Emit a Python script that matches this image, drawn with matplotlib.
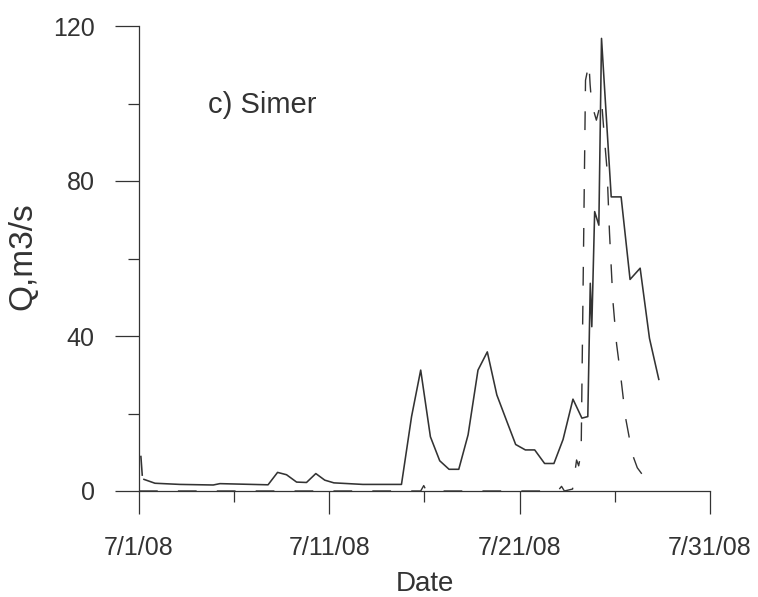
import numpy as np
import pandas as pd
import matplotlib
matplotlib.use("Agg")
import matplotlib.pyplot as plt
import matplotlib.dates as mdates

plt.rcParams['font.family'] = ['Liberation Sans', 'DejaVu Sans']

start = pd.Timestamp("2008-07-01")

# observed flow (solid), days after 7/1/08
obs_days = [0.1, 0.17, 0.2, 0.26, 0.84, 2.15, 3.9, 4.25, 6.78, 7.28, 7.75, 8.28,
            8.8, 9.29, 9.76, 10.24, 11.76, 13.79, 14.32, 14.8, 15.31, 15.8, 16.29,
            16.8, 17.29, 17.81, 18.3, 18.8, 19.3, 19.79, 20.3, 20.79, 21.31, 21.8,
            22.28, 22.8, 23.27, 23.58, 23.71, 23.79, 23.94, 24.16, 24.3, 24.81,
            25.33, 25.8, 26.33, 26.82, 27.31]
obs_q = [8.9, 4.1, np.nan, 3.0, 2.0, 1.7, 1.55, 1.9, 1.6, 4.8, 4.2, 2.3,
         2.2, 4.5, 2.8, 2.1, 1.7, 1.7, 19.2, 31.2, 14.0, 7.8, 5.6,
         5.6, 14.5, 31.2, 35.9, 24.8, 18.3, 12.0, 10.6, 10.6, 7.1, 7.1,
         13.3, 23.7, 18.8, 19.2, 53.6, 42.4, 72.1, 68.6, 116.8, 75.9,
         75.9, 54.6, 57.5, 39.4, 28.8]

# simulated flow (dashed)
sim_days = [0.0, 14.8, 14.96, 15.1, 22.0, 22.2, 22.35, 22.78, 22.99, 23.1,
            23.23, 23.46, 23.64, 23.7, 23.78, 24.03, 24.3, 24.46, 24.59, 24.72,
            24.9, 25.09, 25.3, 25.56, 25.92, 26.18, 26.72]
sim_q = [0.0, 0.0, 1.4, 0.0, 0.0, 1.2, 0.0, 0.5, 8.0, 6.5,
         10.0, 106.0, 110.4, 105.0, 100.0, 95.7, 101.0, 90.6, 83.0, 66.6,
         49.0, 38.0, 30.0, 19.0, 9.5, 6.0, 2.4]

x_major = ["2008-07-01", "2008-07-11", "2008-07-21", "2008-07-31"]
x_minor = ["2008-07-06", "2008-07-16", "2008-07-26"]
y_major = [0, 40, 80, 120]
y_minor = [20, 60, 100]

ink = "#333333"

fig = plt.figure(figsize=(7.58, 5.97), dpi=100)
ax = fig.add_axes([139 / 758, 1 - 491 / 597, 571 / 758, 465 / 597])

obs_t = start + pd.to_timedelta(obs_days, unit="D")
sim_t = start + pd.to_timedelta(sim_days, unit="D")
ax.plot(obs_t, obs_q, color=ink, lw=1.15)
ax.plot(sim_t, sim_q, color=ink, lw=1.0, linestyle=(0, (13.5, 14.5)))

ax.set_xlim(pd.Timestamp(x_major[0]), pd.Timestamp(x_major[-1]))
ax.set_ylim(0, 120)
ax.set_xticks(pd.to_datetime(x_major))
ax.set_xticks(pd.to_datetime(x_minor), minor=True)
ax.xaxis.set_major_formatter(
    plt.FuncFormatter(lambda v, p: "{d.month}/{d.day}/{d:%y}".format(d=mdates.num2date(v))))
ax.set_yticks(y_major)
ax.set_yticks(y_minor, minor=True)

for s in ["top", "right"]:
    ax.spines[s].set_visible(False)
for s in ["left", "bottom"]:
    ax.spines[s].set_color(ink)
    ax.spines[s].set_linewidth(0.9)

ax.tick_params(axis="y", which="major", length=17, width=0.9, color=ink,
               labelsize=18, labelcolor=ink, pad=15)
ax.tick_params(axis="y", which="minor", length=8, width=0.9, color=ink)
ax.tick_params(axis="x", which="major", length=16.5, width=0.9, color=ink,
               labelsize=18, labelcolor=ink, pad=16)
ax.tick_params(axis="x", which="minor", length=8, width=0.9, color=ink)

ax.set_xlabel("Date", fontsize=20, color=ink)
ax.xaxis.label.set_va("baseline")
ax.xaxis.set_label_coords(0.5, (491 - 591) / 465)
ax.set_ylabel("Q,m3/s", fontsize=24, color=ink)
ax.yaxis.set_label_coords((38 - 139) / 571, 0.506)

ax.text((208 - 139) / 571, (491 - 113) / 465, "c) Simer", transform=ax.transAxes,
        fontsize=21, color=ink, va="baseline", ha="left")

fig.savefig("out.png", dpi=100)
